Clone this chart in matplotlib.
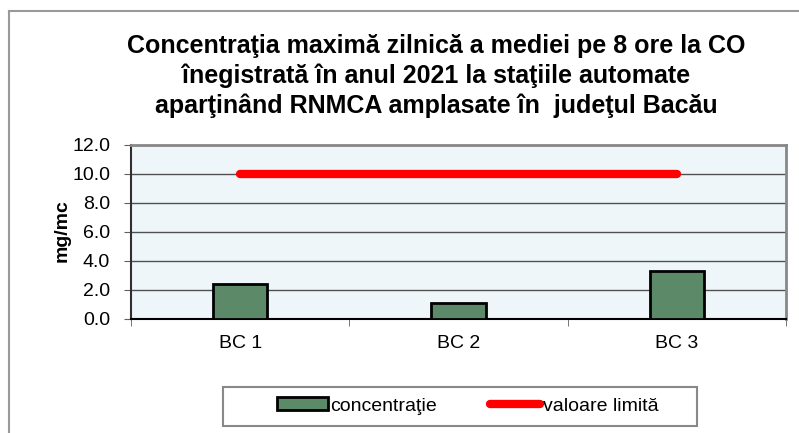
import matplotlib
matplotlib.use("Agg")
import matplotlib.pyplot as plt
from matplotlib.patches import Rectangle
from matplotlib.lines import Line2D

plt.rcParams['font.family'] = ['Liberation Sans', 'DejaVu Sans']

categories = ["BC 1", "BC 2", "BC 3"]
concentration = [2.4, 1.05, 3.3]
limit_value = [10.0, 10.0, 10.0]
yticks = [0.0, 2.0, 4.0, 6.0, 8.0, 10.0, 12.0]
title = ("Concentraţia maximă zilnică a mediei pe 8 ore la CO\n"
         "înegistrată în anul 2021 la staţiile automate\n"
         "aparţinând RNMCA amplasate în  judeţul Bacău")

W, H = 799, 433
fig = plt.figure(figsize=(W / 100, H / 100), dpi=100)

# outer frame (top and left visible)
fig.add_artist(Line2D([8.5 / W, 1.0], [1 - 10.5 / H, 1 - 10.5 / H], color='#999999', lw=1.5, transform=fig.transFigure))
fig.add_artist(Line2D([8.5 / W, 8.5 / W], [0.0, 1 - 10.5 / H], color='#999999', lw=1.5, transform=fig.transFigure))

ax = fig.add_axes([131 / W, 114.5 / H, 655 / W, 174 / H])
ax.set_facecolor('#EEF6FA')
x = list(range(len(categories)))
ax.set_axisbelow(True)
ax.yaxis.grid(True, color='#505050', lw=1.0)
bars = ax.bar(x, concentration, width=0.25, color='#5C8A68', edgecolor='black', lw=2, zorder=3, label='concentraţie')
line, = ax.plot(x, limit_value, color='#FF0000', lw=6, solid_capstyle='round', zorder=4, label='valoare limită')

ax.set_xlim(-0.5, 2.5)
ax.set_ylim(0, 12)
ax.set_yticks(yticks)
ax.set_yticklabels([f"{v:.1f}" for v in yticks], fontsize=14)
ax.set_xticks(x)
ax.set_xticklabels(categories, fontsize=14)
ax.set_xticks([-0.5, 0.5, 1.5, 2.5], minor=True)
ax.tick_params(axis='x', which='major', length=0, pad=12)
ax.tick_params(axis='x', which='minor', length=5, color='#606060', direction='out')
ax.tick_params(axis='y', length=5, color='#606060', direction='out', pad=10)

for s in ['top', 'right']:
    ax.spines[s].set_color('#888888')
    ax.spines[s].set_linewidth(2)
ax.spines['left'].set_color('#303030')
ax.spines['left'].set_linewidth(1.5)
ax.spines['bottom'].set_color('black')
ax.spines['bottom'].set_linewidth(1.5)

ax.set_ylabel('mg/mc', fontsize=14, fontweight='bold', labelpad=0)
ax.yaxis.set_label_coords(62 / W, 1 - 231 / H, transform=fig.transFigure)
ax.yaxis.label.set_va('center')

fig.text(436 / W, 1 - 76 / H, title, ha='center', va='center', fontsize=18, fontweight='bold', linespacing=1.28)

# legend box
fig.add_artist(Rectangle((222.7 / W, 7.3 / H), (697 - 222.7) / W, 39 / H, fill=False, edgecolor='#888888', lw=1.5, transform=fig.transFigure))
fig.legend([bars, line], ['concentraţie', 'valoare limită'], loc='center', bbox_to_anchor=(468 / W, 27 / H), ncol=2,
           frameon=False, fontsize=14, handlelength=2.6, handletextpad=0.15, columnspacing=2.7, handleheight=0.6)

fig.savefig('out.png', dpi=100)
